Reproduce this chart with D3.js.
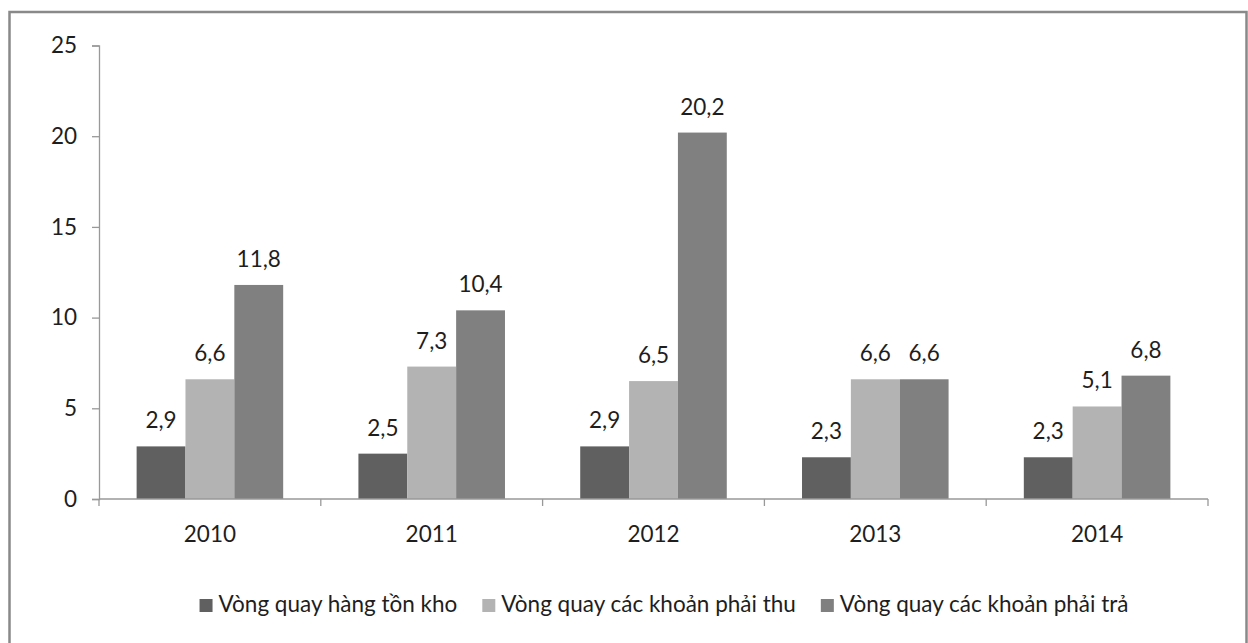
<!DOCTYPE html>
<html>
<head>
<meta charset="utf-8">
<script src="https://cdn.jsdelivr.net/npm/d3@7"></script>
<style>
  body { margin: 0; background: #fff; }
  svg text { font-family: Lato, "Open Sans", sans-serif; fill: #1e1e1e; }
</style>
</head>
<body>
<div id="chart"></div>
<script>
var years = ['2010', '2011', '2012', '2013', '2014'];
var seriesNames = ['Vòng quay hàng tồn kho', 'Vòng quay các khoản phải thu', 'Vòng quay các khoản phải trả'];
var tonKho = [2.9, 2.5, 2.9, 2.3, 2.3];
var phaiThu = [6.6, 7.3, 6.5, 6.6, 5.1];
var phaiTra = [11.8, 10.4, 20.2, 6.6, 6.8];
var yTicks = [0, 5, 10, 15, 20, 25];
var colors = ['#606060', '#b3b3b3', '#808080'];

var width = 1248, height = 643;
var plotLeft = 99, plotRight = 1208, plotTop = 45.5, plotBottom = 499;
var fontSize = 22.5;

var svg = d3.select('#chart').append('svg')
  .attr('width', width)
  .attr('height', height);

svg.append('rect')
  .attr('x', 9.5).attr('y', 12)
  .attr('width', 1237).attr('height', 660)
  .attr('fill', 'none')
  .attr('stroke', '#898989')
  .attr('stroke-width', 2.5);

var x0 = d3.scaleBand().domain(years).range([plotLeft, plotRight]).padding(0);
var x1 = d3.scaleBand().domain(d3.range(3)).range([0, x0.bandwidth()]).paddingInner(0).paddingOuter(0.77);
var y = d3.scaleLinear().domain([0, 25]).range([plotBottom, plotTop]);

var rows = years.map(function(yr, i) {
  return { year: yr, values: [tonKho[i], phaiThu[i], phaiTra[i]] };
});

// y axis
var yAxis = svg.append('g')
  .attr('transform', 'translate(' + plotLeft + ',0)')
  .call(d3.axisLeft(y).tickValues(yTicks).tickSize(7).tickPadding(15).tickFormat(d3.format('d')));
yAxis.select('.domain').attr('stroke', '#999').attr('stroke-width', 1.3);
yAxis.selectAll('.tick line').attr('stroke', '#999').attr('stroke-width', 1.3);
yAxis.selectAll('.tick text').style('font-size', fontSize + 'px').attr('fill', '#1e1e1e');

// bars
var groups = svg.append('g').selectAll('g')
  .data(rows)
  .enter().append('g')
  .attr('transform', function(d) { return 'translate(' + x0(d.year) + ',0)'; });

groups.selectAll('rect')
  .data(function(d) { return d.values; })
  .enter().append('rect')
  .attr('x', function(d, i) { return x1(i); })
  .attr('y', function(d) { return y(d); })
  .attr('width', x1.bandwidth())
  .attr('height', function(d) { return plotBottom - y(d); })
  .attr('fill', function(d, i) { return colors[i]; });

groups.selectAll('.val')
  .data(function(d) { return d.values; })
  .enter().append('text')
  .attr('class', 'val')
  .attr('x', function(d, i) { return x1(i) + x1.bandwidth() / 2; })
  .attr('y', function(d) { return y(d) - 18; })
  .attr('text-anchor', 'middle')
  .style('font-size', fontSize + 'px')
  .text(function(d) { return d.toFixed(1).replace('.', ','); });

// x axis
var xAxisG = svg.append('g');
xAxisG.append('line')
  .attr('x1', plotLeft).attr('x2', plotRight)
  .attr('y1', plotBottom).attr('y2', plotBottom)
  .attr('stroke', '#999').attr('stroke-width', 1.3);
xAxisG.selectAll('.xtick')
  .data(years.concat(['end']))
  .enter().append('line')
  .attr('x1', function(d, i) { return plotLeft + i * x0.step(); })
  .attr('x2', function(d, i) { return plotLeft + i * x0.step(); })
  .attr('y1', plotBottom).attr('y2', plotBottom + 7)
  .attr('stroke', '#999').attr('stroke-width', 1.3);
xAxisG.selectAll('.xlabel')
  .data(years)
  .enter().append('text')
  .attr('x', function(d) { return x0(d) + x0.bandwidth() / 2; })
  .attr('y', 542)
  .attr('text-anchor', 'middle')
  .style('font-size', fontSize + 'px')
  .text(function(d) { return d; });

// legend
var legend = svg.append('g');
var items = legend.selectAll('g')
  .data(seriesNames)
  .enter().append('g');
items.append('rect')
  .attr('width', 13).attr('height', 13)
  .attr('y', 599)
  .attr('fill', function(d, i) { return colors[i]; });
items.append('text')
  .attr('x', 19)
  .attr('y', 612)
  .style('font-size', fontSize + 'px')
  .text(function(d) { return d; });

var widths = [];
items.each(function() {
  widths.push(19 + d3.select(this).select('text').node().getComputedTextLength());
});
var gap = 25;
var total = d3.sum(widths) + gap * (widths.length - 1);
var start = 664 - total / 2;
items.attr('transform', function(d, i) {
  var off = start + d3.sum(widths.slice(0, i)) + gap * i;
  return 'translate(' + off + ',0)';
});
</script>
</body>
</html>
